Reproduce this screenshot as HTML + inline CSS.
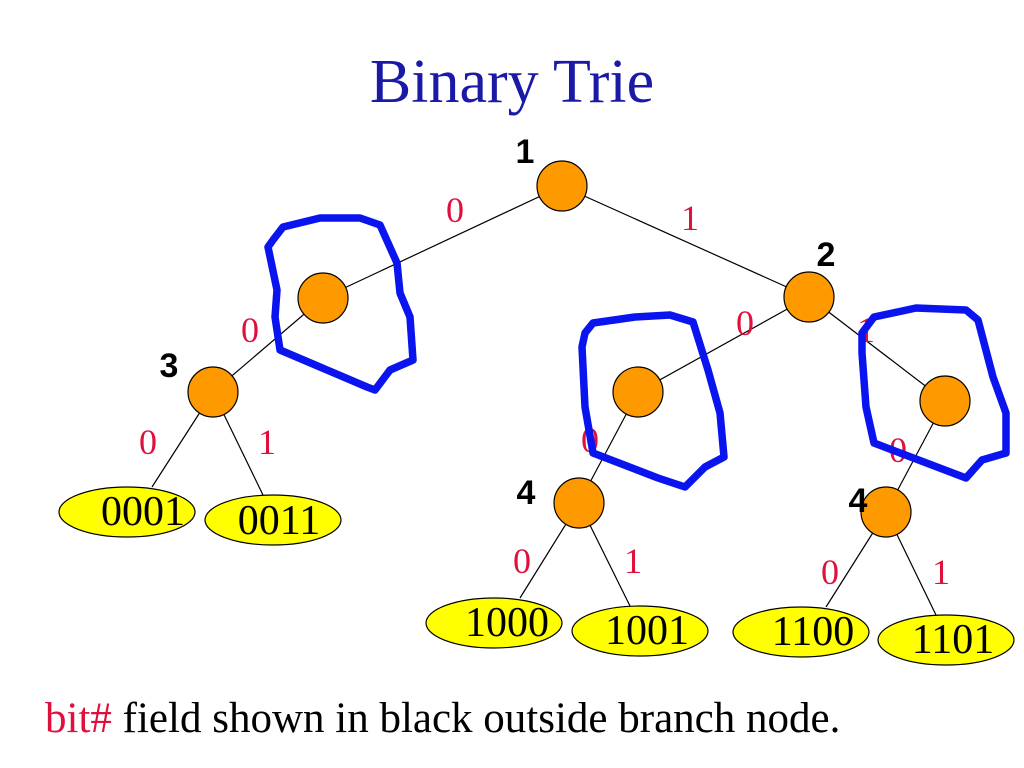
<!DOCTYPE html>
<html><head><meta charset="utf-8"><style>
html,body{margin:0;padding:0;background:#fff;}
svg{display:block;}
</style></head><body>
<svg width="1024" height="768" viewBox="0 0 1024 768" xmlns="http://www.w3.org/2000/svg">
<text x="512" y="102" text-anchor="middle" font-family="Liberation Serif, serif" font-size="62" fill="#1a1aa6">Binary Trie</text>
<g stroke="#000" stroke-width="1.2">
<line x1="562" y1="186" x2="323" y2="298"/>
<line x1="562" y1="186" x2="809" y2="297"/>
<line x1="323" y1="298" x2="213" y2="392"/>
<line x1="213" y1="392" x2="152" y2="487"/>
<line x1="213" y1="392" x2="263" y2="495"/>
<line x1="809" y1="297" x2="638" y2="392"/>
<line x1="809" y1="297" x2="945" y2="401"/>
<line x1="638" y1="392" x2="579" y2="503"/>
<line x1="945" y1="401" x2="886" y2="512"/>
<line x1="579" y1="503" x2="520" y2="598"/>
<line x1="579" y1="503" x2="630" y2="606"/>
<line x1="886" y1="512" x2="826" y2="607"/>
<line x1="886" y1="512" x2="936" y2="615"/>
</g>
<g fill="#ff9900" stroke="#000" stroke-width="1.2">
<circle cx="562" cy="186" r="25"/>
<circle cx="323" cy="298" r="25"/>
<circle cx="213" cy="392" r="25"/>
<circle cx="809" cy="297" r="25"/>
<circle cx="638" cy="392" r="25"/>
<circle cx="945" cy="401" r="25"/>
<circle cx="579" cy="503" r="25"/>
<circle cx="886" cy="512" r="25"/>
</g>
<g fill="#ffff00" stroke="#000" stroke-width="1.2">
<ellipse cx="127" cy="512" rx="68" ry="25"/>
<ellipse cx="273" cy="520" rx="68" ry="25"/>
<ellipse cx="494" cy="623" rx="68" ry="25"/>
<ellipse cx="640" cy="631" rx="68" ry="25"/>
<ellipse cx="801" cy="632" rx="68" ry="25"/>
<ellipse cx="946" cy="640" rx="68" ry="25"/>
</g>
<g font-family="Liberation Serif, serif" font-size="42" fill="#000" text-anchor="middle">
<text x="143" y="525">0001</text>
<text x="279" y="534">0011</text>
<text x="507" y="636">1000</text>
<text x="647" y="644">1001</text>
<text x="813" y="645">1100</text>
<text x="953" y="653">1101</text>
</g>
<g font-family="Liberation Serif, serif" font-size="36" fill="#e0103c" text-anchor="middle">
<text x="455" y="222">0</text>
<text x="690" y="230">1</text>
<text x="250" y="342">0</text>
<text x="148" y="454">0</text>
<text x="267" y="454">1</text>
<text x="745" y="335">0</text>
<text x="866" y="342">1</text>
<text x="590" y="452">0</text>
<text x="898" y="462">0</text>
<text x="522" y="573">0</text>
<text x="633" y="573">1</text>
<text x="830" y="584">0</text>
<text x="941" y="584">1</text>
</g>
<g font-family="Liberation Sans, sans-serif" font-weight="bold" font-size="34" fill="#000" text-anchor="middle">
<text x="525" y="163">1</text>
<text x="826" y="266">2</text>
<text x="169" y="377">3</text>
<text x="526" y="504">4</text>
<text x="858" y="512">4</text>
</g>
<g fill="none" stroke="#0a14ee" stroke-width="7.5" stroke-linejoin="round" stroke-linecap="round">
<path d="M273,240 L283,227 L320,218 L360,218 L380,225 L397,263 L400,293 L410,317 L413,360 L390,370 L375,390 L367,387 L280,350 L275,317 L277,290 L268,247 Z"/>
<path d="M585,333 L593,323 L635,317 L670,315 L693,322 L708,370 L720,413 L724,457 L705,467 L685,487 L658,478 L593,453 L585,407 L582,347 Z"/>
<path d="M862,333 L874,317 L916,308 L966,310 L978,320 L993,377 L1006,413 L1006,453 L982,460 L966,478 L874,443 L866,407 L862,353 Z"/>
</g>
<text x="45" y="732" font-family="Liberation Serif, serif" font-size="43" fill="#000"><tspan fill="#e0103c">bit#</tspan> field shown in black outside  branch node.</text>
</svg>
</body></html>
